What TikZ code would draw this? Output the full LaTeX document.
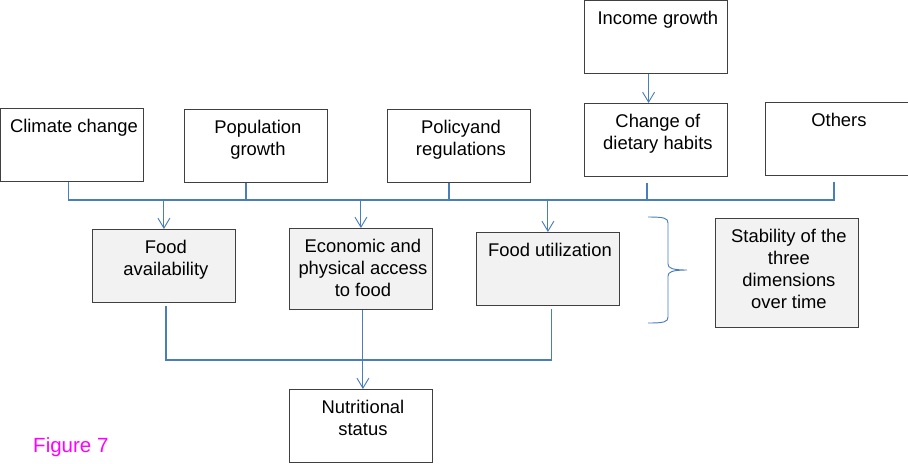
\documentclass[tikz,border=0pt]{standalone}
\usepackage{fontspec}
\setmainfont{Liberation Sans}
\usetikzlibrary{arrows.meta}
\definecolor{linkblue}{HTML}{4A7EBB}
\definecolor{boxline}{HTML}{404040}
\definecolor{boxfill}{HTML}{F2F2F2}
\definecolor{figmagenta}{HTML}{FF00FF}
\tikzset{
  box/.style={draw=boxline, line width=0.7pt, anchor=north west, minimum width=4.29cm, inner sep=0pt},
  boxtext/.style={anchor=north, align=center, inner sep=0pt, font=\fontsize{15.7}{18.8}\selectfont},
  link/.style={draw=linkblue, line width=1.1pt},
  arr/.style={draw=linkblue, line width=0.8pt, -{Straight Barb[length=3mm,width=3.6mm]}},
}

\begin{document}
\begin{tikzpicture}[x=0.03cm, y=-0.03cm]
  \useasboundingbox (0,0) rectangle (908,463);
  % boxes: name/x/y/height/fill/text
  \foreach \n/\x/\y/\h/\f/\t in {
      clim/0/108/2.19/white/{Climate change},
      pop/184/109/2.19/white/{Population\\growth},
      policy/387/109/2.19/white/{Policyand\\regulations},
      income/584/0/2.19/white/{Income growth},
      diet/584/103/2.19/white/{Change of\\dietary habits},
      others/765/102/2.19/white/{Others},
      avail/92/229/2.19/boxfill/{Food\\availability},
      econ/289/228/2.43/boxfill/{Economic and\\physical access\\to food},
      util/476/232/2.19/boxfill/{Food utilization},
      stab/715/218/3.27/boxfill/{Stability of the\\three\\dimensions\\over time},
      nutri/289/389/2.19/white/{Nutritional\\status}} {
    \node[box, fill=\f, minimum height=\h cm] (\n) at (\x,\y) {};
    \node[boxtext] (\n-t) at ([xshift=0.06cm, yshift=-0.33cm]\n.north) {\t};
  }

  % drivers join the bus
  \coordinate (bus) at (0,200);
  \coordinate (join) at (0,360);
  \foreach \n/\s in {clim/-0.1, pop/-0.3, policy/-0.3, diet/-0.27, others/-0.09, income/-0.22, avail/0.06, econ/0.06, util/0.1}
    \coordinate (\n-b) at ([xshift=\s cm]\n.south);
  \draw[link, shorten >=0.18cm] (clim-b) -- (clim-b |- bus) -- (others-b |- bus) -- (others-b);
  \foreach \n in {pop, policy}
    \draw[link] (\n-b) -- (\n-b |- bus);
  \draw[link, shorten <=0.18cm] (diet-b) -- (diet-b |- bus);
  \draw[arr] (income-b) -- (income-b |- diet.north);

  % bus down to the three dimensions
  \foreach \n in {avail, econ, util}
    \draw[arr] (\n.north |- bus) -- (\n.north);

  % dimensions down to nutrition
  \draw[link, shorten <=0.09cm, shorten >=0.09cm] (avail-b) -- (avail-b |- join) -- (util-b |- join) -- (util-b);
  \draw[arr] (econ-b) -- (econ-b |- nutri.north);

  % brace
  \draw[linkblue, line width=0.8pt] (648,217) .. controls (664,217) and (668,218) .. (668,223) -- (668,264)
    .. controls (668,268) and (672,270) .. (687,270)
    .. controls (672,270) and (668,272) .. (668,276) -- (668,317)
    .. controls (668,322) and (664,323) .. (648,323);

  \node[text=figmagenta, font=\fontsize{17.5}{21}\selectfont, anchor=base west, inner sep=0pt] (fig) at (33,452) {Figure 7};
\end{tikzpicture}
\end{document}
